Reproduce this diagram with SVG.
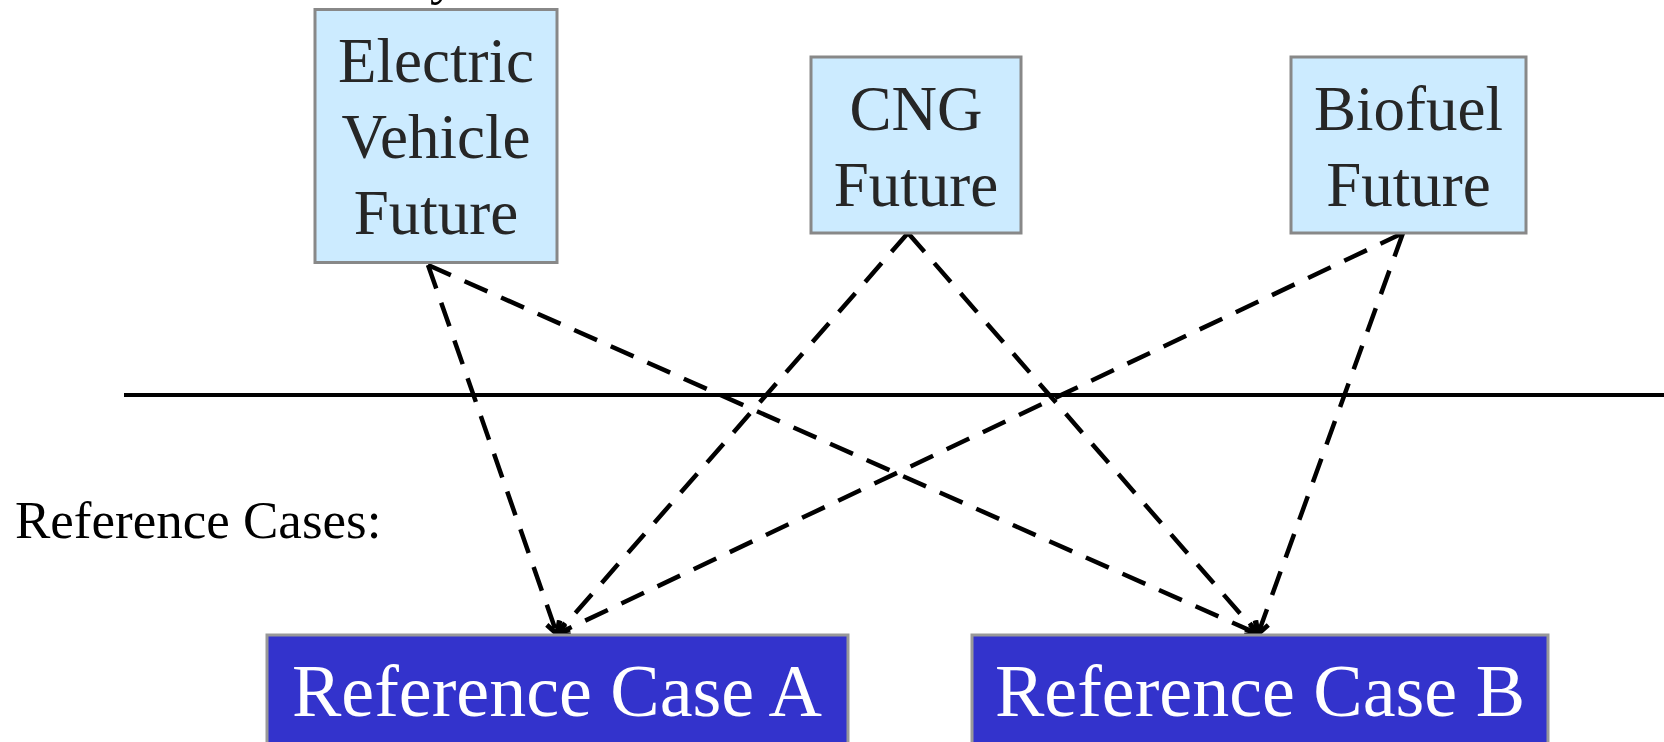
<svg xmlns="http://www.w3.org/2000/svg" width="1664" height="742" viewBox="0 0 1664 742">
  <defs>
    <style>
      .future rect { fill: #CCEBFF; stroke: #888888; stroke-width: 3; }
      .future text { font-family: "Liberation Serif", "Times New Roman", serif; font-size: 63px; fill: #262626; text-anchor: middle; }
      .refcase rect { fill: #3333CC; stroke: #999999; stroke-width: 3; }
      .refcase text { font-family: "Liberation Serif", "Times New Roman", serif; font-size: 74px; fill: #FFFFFF; text-anchor: middle; }
      .label { font-family: "Liberation Serif", "Times New Roman", serif; fill: #000000; }
      .conn { fill: none; stroke: #000000; stroke-width: 4.5; stroke-dasharray: 25 15; marker-end: url(#arrow); }
    </style>
    <marker id="arrow" markerUnits="userSpaceOnUse" markerWidth="24" markerHeight="24" refX="0" refY="0" viewBox="-14 -10 16 20" orient="auto">
      <path d="M -10 -5.5 L 0 0 L -10 5.5" fill="none" stroke="#000000" stroke-width="4" stroke-dasharray="none"/>
    </marker>
  </defs>

  <rect x="0" y="0" width="1664" height="742" fill="#FFFFFF"/>

  <text class="label" x="430" y="-6" font-size="53">y</text>

  <line x1="124" y1="395" x2="1664" y2="395" stroke="#000000" stroke-width="4"/>

  <text id="reference-cases-label" class="label" x="15" y="538" font-size="53">Reference Cases:</text>

  <g id="connectors">
    <line class="conn" x1="428" y1="265" x2="557" y2="634"/>
    <line class="conn" x1="428" y1="265" x2="1258" y2="634"/>
    <line class="conn" x1="908" y1="233" x2="557" y2="634"/>
    <line class="conn" x1="908" y1="233" x2="1258" y2="634"/>
    <line class="conn" x1="1403" y1="233" x2="557" y2="634"/>
    <line class="conn" x1="1403" y1="233" x2="1258" y2="634"/>
  </g>

  <g id="electric-vehicle-future" class="future">
    <rect x="315" y="9.5" width="242" height="253"/>
    <text x="436" y="82">Electric</text>
    <text x="436" y="158">Vehicle</text>
    <text x="436" y="234">Future</text>
  </g>

  <g id="cng-future" class="future">
    <rect x="811" y="57" width="210" height="176"/>
    <text x="916" y="130">CNG</text>
    <text x="916" y="206">Future</text>
  </g>

  <g id="biofuel-future" class="future">
    <rect x="1291" y="57" width="235" height="176"/>
    <text x="1408.5" y="130">Biofuel</text>
    <text x="1408.5" y="206">Future</text>
  </g>

  <g id="reference-case-a" class="refcase">
    <rect x="267" y="635" width="581" height="130"/>
    <text x="557" y="716">Reference Case A</text>
  </g>

  <g id="reference-case-b" class="refcase">
    <rect x="972" y="635" width="576" height="130"/>
    <text x="1260" y="716">Reference Case B</text>
  </g>
</svg>
